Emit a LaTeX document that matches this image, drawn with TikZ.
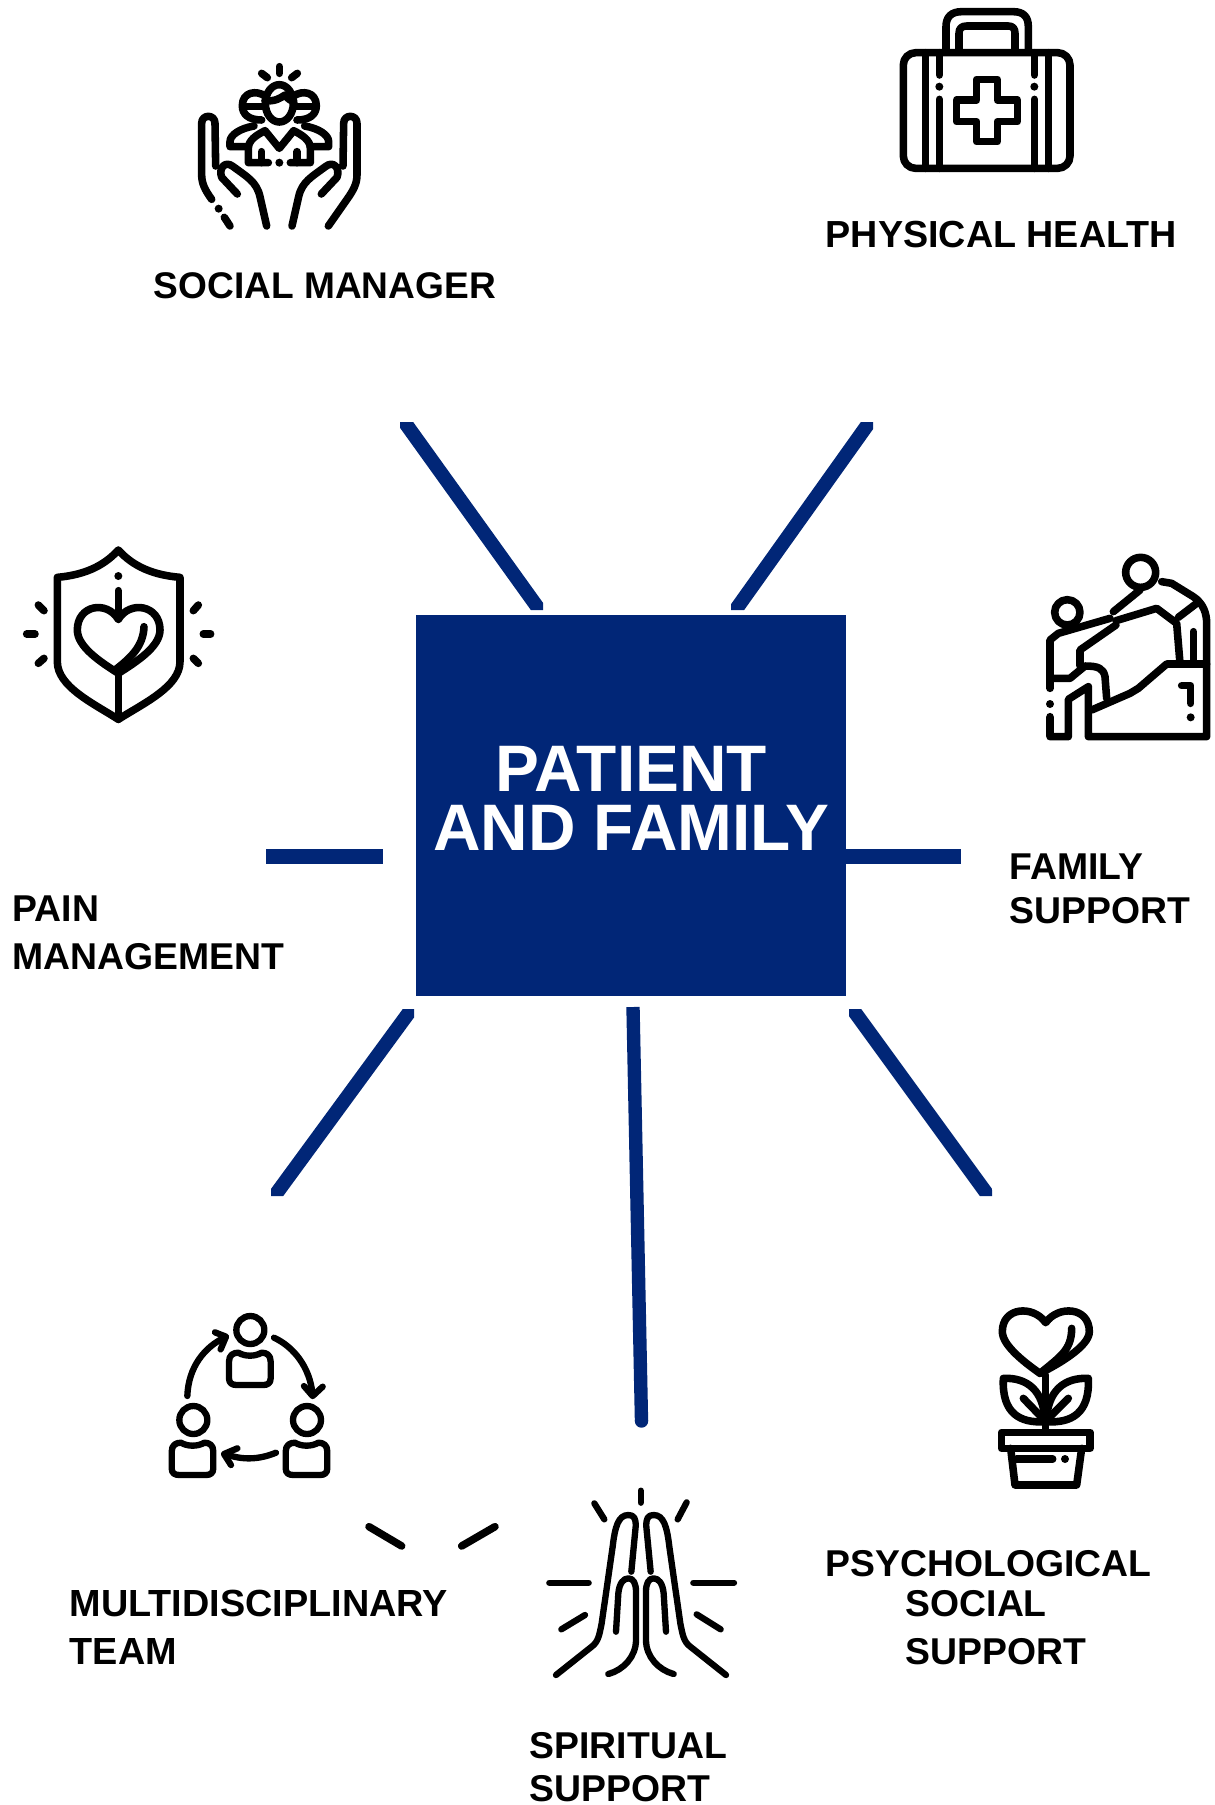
\documentclass[tikz,border=0pt]{standalone}
\usepackage{fontspec}
\setmainfont{Liberation Sans}
\definecolor{navy}{HTML}{012677}
\begin{document}
\begin{tikzpicture}[x=0.01cm,y=-0.01cm,
  icon/.style={line width=2.15pt,line cap=round,line join=round,black},
  thinicon/.style={icon,line width=1.8pt},
  spot/.style={black,radius=12},
  spoke/.style={navy,line width=4pt,shorten >=-8pt,shorten <=-8pt},
  bar/.style={navy,line width=4.1pt},
  lbl/.style={anchor=base west,inner sep=0pt,align=left,font=\fontsize{10.62}{12.5}\selectfont\bfseries},
  lblwide/.style={lbl,font=\fontsize{10.62}{13.4}\selectfont\bfseries}]
\useasboundingbox (0,0) rectangle (1214,1805);
\node [fill=navy,text=white,inner sep=0pt,minimum width=4.305cm,minimum height=3.80cm,align=center,font=\fontsize{18.7}{16.8}\selectfont\bfseries] (patient) at (631,805.5) {PATIENT\\AND FAMILY\\[-12.8pt]\mbox{}};

\coordinate (tl1) at (404.5,422); \coordinate (tl2) at (539.5,610);
\coordinate (tr1) at (869.5,422); \coordinate (tr2) at (735.5,610);
\coordinate (bl1) at (411.5,1009); \coordinate (bl2) at (274.5,1196);
\coordinate (br1) at (852.5,1009); \coordinate (br2) at (988.5,1196);
\begin{scope}
\clip (400,422) rectangle (543,610) (731,422) rectangle (873,610) (271,1009) rectangle (414,1196) (849,1009) rectangle (992,1196);
\draw [spoke] (tl1) -- (tl2);
\draw [spoke] (tr1) -- (tr2);
\draw [spoke] (bl1) -- (bl2);
\draw [spoke] (br1) -- (br2);
\end{scope}
\coordinate (ml1) at (266,856.5); \coordinate (ml2) at (383,856.5);
\coordinate (mr1) at (846,856.5); \coordinate (mr2) at (961,856.5);
\coordinate (bt1) at (633,1007); \coordinate (bt2) at (641.5,1421);
\draw [bar] (ml1) -- (ml2);
\draw [bar] (mr1) -- (mr2);
\draw [bar,line width=3.8pt] (bt1) -- (bt2);
\fill [navy] (bt2) circle (6.7);

\node [lbl,font=\fontsize{10.55}{12.5}\selectfont\bfseries] (social) at (153,298) {SOCIAL MANAGER};
\node [lbl,font=\fontsize{10.72}{12.5}\selectfont\bfseries] (physical) at (825,247) {PHYSICAL HEALTH};
\node [lbl] (family) at (1009,923) {FAMILY\\SUPPORT};
\node [lblwide] (pain) at (12,969) {PAIN\\MANAGEMENT};
\node [lblwide,font=\fontsize{10.75}{13.4}\selectfont\bfseries] (team) at (69,1664) {MULTIDISCIPLINARY\\TEAM};
\node [lbl] (psycho) at (825,1576) {PSYCHOLOGICAL};
\node [lblwide] (psycho2) at (905,1664) {SOCIAL\\SUPPORT};
\node [lbl,font=\fontsize{10.62}{12}\selectfont\bfseries] (spiritual) at (529,1801) {SPIRITUAL\\SUPPORT};

\begin{scope}[shift={(150,40)},scale=1/3]
\draw [icon] (388,80) -- (388,100);
\draw [icon] (335,100) -- (352,113);
\draw [icon] (442,100) -- (425,113);
\draw [icon] (388,190) ellipse (42 and 56);
\draw [icon] (345,182) .. controls (375,185) and (390,175) .. (405,165) .. controls (412,175) and (422,182) .. (432,185);
\draw [icon] (345,168) .. controls (320,150) and (277,155) .. (277,197) .. controls (277,222) and (295,240) .. (335,240);
\draw [icon] (431,168) .. controls (456,150) and (499,155) .. (499,197) .. controls (499,222) and (481,240) .. (441,240);
\draw [icon] (280,200) -- (340,200);
\draw [icon] (436,200) -- (496,200);
\draw [icon] (355,368) -- (295,368) -- (295,325) .. controls (295,300) and (320,285) .. (345,272) -- (388,325) -- (431,272) .. controls (456,285) and (481,300) .. (481,325) -- (481,368) -- (421,368);
\draw [icon] (335,335) -- (335,368);
\draw [icon] (441,335) -- (441,368);
\fill [spot] (388,368) circle;
\draw [icon] (295,320) -- (240,320) -- (240,305) .. controls (240,285) and (270,265) .. (312,258);
\draw [icon] (481,320) -- (536,320) -- (536,305) .. controls (536,285) and (506,265) .. (464,258);
\draw [icon] (185,478) .. controls (165,450) and (155,430) .. (155,405) -- (155,250) .. controls (155,222) and (195,222) .. (195,250) -- (197,378);
\draw [icon] (262,462) -- (215,412) .. controls (205,385) and (225,360) .. (250,380) .. controls (290,410) and (320,425) .. (330,470) -- (350,558);
\draw [icon] (535,558) -- (591,478) .. controls (611,450) and (621,430) .. (621,405) -- (621,250) .. controls (621,222) and (581,222) .. (581,250) -- (579,378);
\draw [icon] (514,462) -- (561,412) .. controls (571,385) and (551,360) .. (526,380) .. controls (486,410) and (456,425) .. (446,470) -- (426,558);
\fill [spot] (206,506) circle;
\draw [icon] (223,532) -- (240,558);
\end{scope}

\begin{scope}[shift={(860,0)},scale=1/3]
\draw [icon,rounded corners=3.5pt] (130,158) rectangle (630,505);
\draw [icon] (258,150) -- (258,80) .. controls (258,50) and (275,35) .. (305,35) -- (460,35) .. controls (490,35) and (505,50) .. (505,80) -- (505,150);
\draw [icon] (297,150) -- (297,100) .. controls (297,85) and (305,78) .. (320,78) -- (445,78) .. controls (458,78) and (465,85) .. (465,100) -- (465,150);
\draw [icon] (197,158) -- (197,505);
\draw [icon] (238,158) -- (238,225);
\fill [spot] (238,260) circle;
\draw [icon] (238,298) -- (238,505);
\draw [icon] (565,158) -- (565,505);
\draw [icon] (523,158) -- (523,225);
\fill [spot] (523,260) circle;
\draw [icon] (523,298) -- (523,505);
\draw [icon] (350,238) -- (412,238) -- (412,300) -- (472,300) -- (472,365) -- (412,365) -- (412,425) -- (350,425) -- (350,365) -- (290,365) -- (290,300) -- (350,300) -- cycle;
\end{scope}

\begin{scope}[shift={(0,530)},scale=1/3]
\draw [icon] (355,60) .. controls (310,110) and (250,135) .. (172,142) -- (172,395) .. controls (172,470) and (280,520) .. (355,568) .. controls (430,520) and (540,470) .. (540,395) -- (540,142) .. controls (460,135) and (400,110) .. (355,60) -- cycle;
\draw [icon] (115,225) -- (132,242);
\draw [icon] (80,312) -- (105,312);
\draw [icon] (115,400) -- (132,385);
\draw [icon] (595,225) -- (580,242);
\draw [icon] (610,312) -- (632,312);
\draw [icon] (595,400) -- (580,385);
\fill [spot] (355,138) circle;
\draw [icon] (355,182) -- (355,268);
\draw [icon] (355,430) .. controls (300,395) and (232,350) .. (232,300) .. controls (232,225) and (320,210) .. (355,268) .. controls (390,210) and (480,225) .. (480,300) .. controls (480,350) and (410,395) .. (355,430);
\draw [icon] (432,290) .. controls (430,350) and (390,385) .. (345,420);
\draw [icon] (355,430) -- (355,568);
\end{scope}

\begin{scope}[shift={(1030,540)},scale=1/3]
\draw [icon] (332,97) circle (45);
\draw [icon] (112,217) circle (38);
\draw [icon] (330,150) -- (250,215);
\draw [icon] (395,125) -- (425,130) -- (490,170) .. controls (520,190) and (530,220) .. (530,250) -- (530,590) -- (175,590) -- (175,440) -- (115,478) -- (115,590) -- (60,590) -- (60,530);
\draw [icon] (500,190) -- (445,232);
\draw [icon] (258,242) -- (380,205) -- (440,250) -- (450,370);
\draw [icon] (490,275) -- (490,372);
\draw [icon] (530,372) -- (410,372) -- (325,445) -- (300,460) -- (185,510);
\draw [icon] (230,475) -- (225,410) .. controls (220,385) and (205,378) .. (165,378) -- (120,415) -- (60,415) -- (60,300) -- (85,280) -- (240,235);
\draw [icon] (60,415) -- (60,445);
\draw [icon] (150,378) -- (150,330) -- (258,255);
\fill [spot] (60,492) circle;
\draw [icon] (455,437) -- (482,437) -- (482,490);
\fill [spot] (482,532) circle;
\end{scope}

\begin{scope}[shift={(150,1300)},scale=1/3]
\draw [thinicon] (301,90) circle (42);
\draw [thinicon] (130,360) circle (42);
\draw [thinicon] (471,360) circle (42);
\draw [thinicon] (237,185) .. controls (237,165) and (250,158) .. (265,158) .. controls (285,170) and (315,170) .. (335,158) .. controls (350,158) and (362,165) .. (362,185) -- (362,235) .. controls (362,250) and (352,255) .. (340,255) -- (260,255) .. controls (247,255) and (237,250) .. (237,235) -- cycle;
\draw [thinicon] (65,455) .. controls (65,435) and (78,428) .. (93,428) .. controls (113,440) and (143,440) .. (163,428) .. controls (178,428) and (190,435) .. (190,455) -- (190,505) .. controls (190,520) and (180,525) .. (168,525) -- (88,525) .. controls (75,525) and (65,520) .. (65,505) -- cycle;
\draw [thinicon] (407,455) .. controls (407,435) and (420,428) .. (435,428) .. controls (455,440) and (485,440) .. (505,428) .. controls (520,428) and (532,435) .. (532,455) -- (532,505) .. controls (532,520) and (522,525) .. (510,525) -- (430,525) .. controls (417,525) and (407,520) .. (407,505) -- cycle;
\draw [thinicon] (112,288) .. controls (115,200) and (165,140) .. (225,112);
\draw [thinicon] (195,97) -- (228,110) -- (212,148);
\draw [thinicon] (372,113) .. controls (430,140) and (480,200) .. (488,285);
\draw [thinicon] (462,258) -- (488,288) -- (518,260);
\draw [thinicon] (378,458) .. controls (325,480) and (275,480) .. (225,462);
\draw [thinicon] (262,445) -- (222,462) -- (243,495);
\end{scope}

\begin{scope}[shift={(530,1470)},scale=1/3]
\draw [thinicon] (332,62) -- (332,98);
\draw [thinicon] (193,100) -- (223,148);
\draw [thinicon] (470,97) -- (443,148);
\draw [thinicon] (58,338) -- (176,338);
\draw [thinicon] (490,338) -- (612,338);
\draw [thinicon] (94,478) -- (165,435);
\draw [thinicon] (572,478) -- (500,433);
\draw [thinicon] (78,615) -- (185,530) .. controls (205,515) and (208,495) .. (215,460) -- (248,230) .. controls (255,170) and (265,135) .. (295,135) .. controls (312,135) and (318,145) .. (317,170) -- (304,305);
\draw [thinicon] (258,485) -- (265,370) .. controls (268,340) and (280,325) .. (295,325) .. controls (310,325) and (318,340) .. (318,365) -- (318,510) .. controls (318,560) and (280,600) .. (235,612);
\draw [thinicon] (588,615) -- (481,530) .. controls (461,515) and (458,495) .. (451,460) -- (418,230) .. controls (411,170) and (401,135) .. (371,135) .. controls (354,135) and (348,145) .. (349,170) -- (362,305);
\draw [thinicon] (408,485) -- (401,370) .. controls (398,340) and (386,325) .. (371,325) .. controls (356,325) and (348,340) .. (348,365) -- (348,510) .. controls (348,560) and (386,600) .. (431,612);
\end{scope}

\begin{scope}[shift={(970,1290)},scale=1/3]
\draw [icon] (227,98) .. controls (190,45) and (97,50) .. (97,125) .. controls (97,165) and (160,215) .. (210,250) .. controls (260,225) and (358,170) .. (358,125) .. controls (358,50) and (265,45) .. (227,98) -- cycle;
\draw [icon] (305,115) .. controls (305,180) and (270,200) .. (210,250);
\draw [icon] (227,255) -- (227,425);
\draw [icon] (100,265) .. controls (170,262) and (222,300) .. (225,395) .. controls (150,400) and (95,370) .. (100,265) -- cycle;
\draw [icon] (355,265) .. controls (285,262) and (232,300) .. (229,395) .. controls (304,400) and (360,370) .. (355,265) -- cycle;
\draw [icon] (160,325) -- (218,385);
\draw [icon] (295,325) -- (235,385);
\draw [icon] (95,427) rectangle (360,475);
\draw [icon] (122,475) -- (135,585) -- (320,585) -- (335,475);
\draw [icon] (140,507) -- (248,507);
\fill [spot] (285,507) circle;
\end{scope}

\begin{scope}[shift={(340,1500)},scale=1/3]
\draw [icon] (87,80) -- (185,138);
\draw [icon] (365,138) -- (465,80);
\end{scope}
\end{tikzpicture}
\end{document}
